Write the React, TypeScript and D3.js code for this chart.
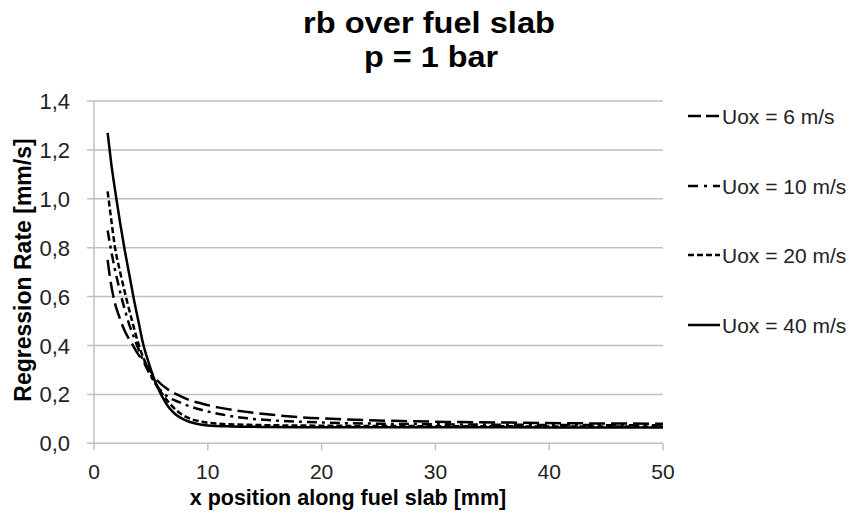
import React from "react";
import * as d3 from "d3";

const W = 855;
const H = 513;

const xTicks = [0, 10, 20, 30, 40, 50];
const yTicks = [0, 0.2, 0.4, 0.6, 0.8, 1.0, 1.2, 1.4];

const seriesNames = ["Uox = 6 m/s", "Uox = 10 m/s", "Uox = 20 m/s", "Uox = 40 m/s"];

const x6 = [1.2, 1.4, 1.8, 2.2, 2.8, 3.3, 3.8, 4.6, 5.5, 6.5, 7.5, 8.5, 9.5, 11, 13.5, 16, 18, 22, 27, 32, 36, 42, 50];
const y6 = [0.75, 0.68, 0.58, 0.52, 0.45, 0.41, 0.37, 0.32, 0.26, 0.22, 0.195, 0.175, 0.162, 0.146, 0.128, 0.115, 0.107, 0.098, 0.091, 0.087, 0.085, 0.082, 0.08];

const x10 = [1.2, 1.5, 1.8, 2.4, 3.0, 3.7, 4.6, 5.6, 6.5, 7.5, 8.5, 9.5, 11, 13.5, 16, 20, 25, 30, 40, 50];
const y10 = [0.87, 0.79, 0.72, 0.6, 0.5, 0.41, 0.31, 0.23, 0.19, 0.168, 0.15, 0.136, 0.12, 0.102, 0.093, 0.085, 0.08, 0.078, 0.075, 0.074];

const x20 = [1.2, 1.5, 1.85, 2.3, 2.8, 3.35, 3.95, 4.7, 5.4, 6.1, 6.8, 7.5, 8.5, 9.5, 11, 14, 20, 30, 40, 50];
const y20 = [1.03, 0.92, 0.8, 0.7, 0.6, 0.5, 0.4, 0.31, 0.245, 0.195, 0.155, 0.125, 0.1, 0.088, 0.08, 0.075, 0.072, 0.07, 0.069, 0.068];

const x40 = [1.2, 1.5, 1.9, 2.3, 2.7, 3.1, 3.5, 3.9, 4.3, 4.8, 5.4, 6.0, 6.6, 7.2, 8, 9, 10, 12, 15, 20, 30, 40, 50];
const y40 = [1.27, 1.15, 1.02, 0.9, 0.79, 0.69, 0.59, 0.5, 0.41, 0.33, 0.25, 0.19, 0.145, 0.117, 0.095, 0.08, 0.073, 0.069, 0.067, 0.066, 0.066, 0.065, 0.065];

const dashes = ["16,6", "10,5,3,5", "6,3", "none"];
const legendDashes = ["13,5", "10,6,3,6", "6,3", "none"];

export default function App() {
  const left = 94, right = 663, top = 101, bottom = 443.3;
  const x = d3.scaleLinear().domain([0, 50]).range([left, right]);
  const y = d3.scaleLinear().domain([0, 1.4]).range([bottom, top]);
  const line = d3
    .line<[number, number]>()
    .x((d) => x(d[0]))
    .y((d) => y(d[1]))
    .curve(d3.curveMonotoneX);

  const data: [number, number][][] = [
    x6.map((v, i) => [v, y6[i]]),
    x10.map((v, i) => [v, y10[i]]),
    x20.map((v, i) => [v, y20[i]]),
    x40.map((v, i) => [v, y40[i]]),
  ];

  const font = "'Liberation Sans', Arial, sans-serif";
  const legendY = [116, 186, 255, 325];

  return (
    <div style={{ position: "absolute", left: 0, top: 0 }}>
      <svg width={W} height={H} style={{ display: "block", background: "#fff" }} fontFamily={font}>
        <rect width={W} height={H} fill="#fff" />
        <text
          x={429}
          y={33}
          textAnchor="middle"
          fontSize={30}
          fontWeight="bold"
          fill="#000"
          textLength={252}
          lengthAdjust="spacingAndGlyphs"
        >
          rb over fuel slab
        </text>
        <text
          x={431}
          y={67}
          textAnchor="middle"
          fontSize={30}
          fontWeight="bold"
          fill="#000"
          textLength={134}
          lengthAdjust="spacingAndGlyphs"
        >
          p = 1 bar
        </text>

        {yTicks.map((t) => (
          <g key={"y" + t}>
            <line x1={87} x2={right} y1={y(t)} y2={y(t)} stroke="#c0c0c0" strokeWidth={1.5} />
            <text x={70} y={y(t) + 8} textAnchor="end" fontSize={22} fill="#222">
              {t.toFixed(1).replace(".", ",")}
            </text>
          </g>
        ))}
        <line x1={left} x2={left} y1={top} y2={bottom} stroke="#c0c0c0" strokeWidth={1.5} />
        {xTicks.map((t) => (
          <g key={"x" + t}>
            <line x1={x(t)} x2={x(t)} y1={bottom} y2={bottom + 7} stroke="#c0c0c0" strokeWidth={1.5} />
            <text x={x(t)} y={479} textAnchor="middle" fontSize={21} fill="#222">
              {t}
            </text>
          </g>
        ))}

        {data.map((d, i) => (
          <path
            key={"s" + i}
            d={line(d) || ""}
            fill="none"
            stroke="#000"
            strokeWidth={2.5}
            strokeDasharray={dashes[i]}
          />
        ))}

        <text x={348} y={505} textAnchor="middle" fontSize={21.5} fontWeight="bold" fill="#000">
          x position along fuel slab [mm]
        </text>
        <text
          transform={`translate(31,270) rotate(-90)`}
          textAnchor="middle"
          fontSize={23}
          fontWeight="bold"
          fill="#000"
        >
          Regression Rate [mm/s]
        </text>

        {seriesNames.map((n, i) => (
          <g key={"l" + i}>
            <line
              x1={688}
              x2={720}
              y1={legendY[i]}
              y2={legendY[i]}
              stroke="#000"
              strokeWidth={2.5}
              strokeDasharray={legendDashes[i]}
            />
            <text x={722} y={legendY[i] + 8} fontSize={21} fill="#222">
              {n}
            </text>
          </g>
        ))}
      </svg>
    </div>
  );
}
